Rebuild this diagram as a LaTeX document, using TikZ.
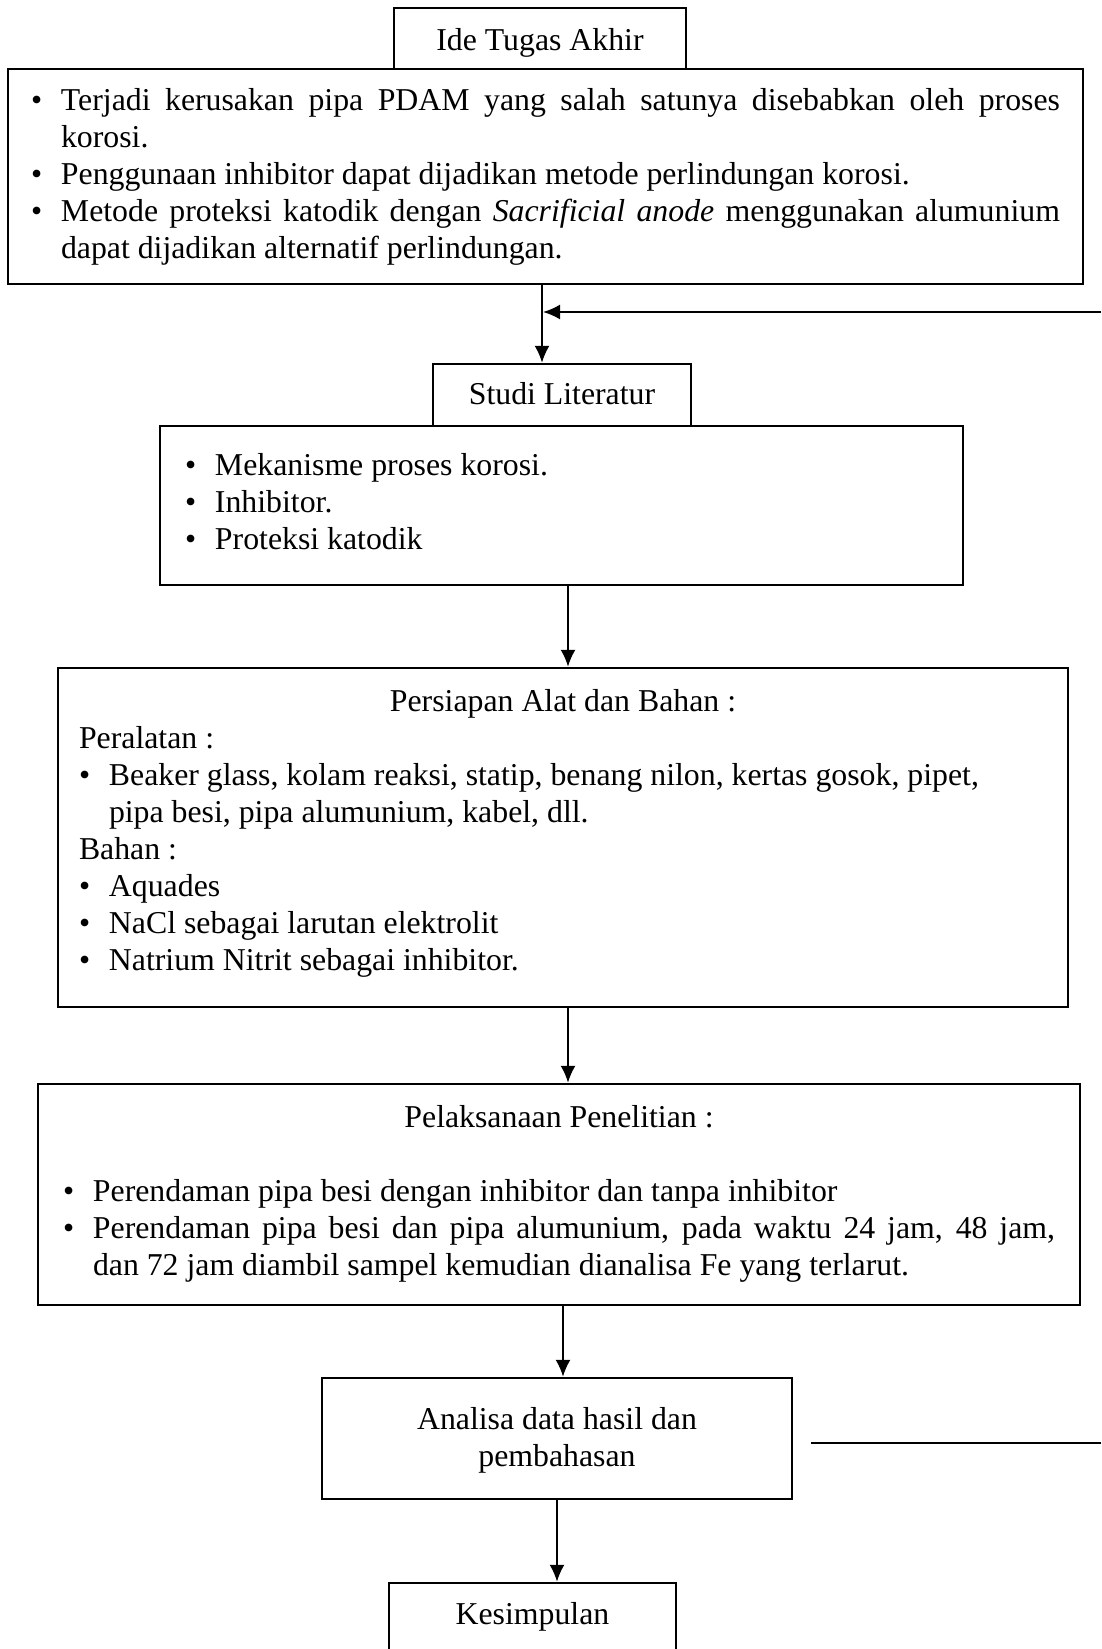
\documentclass[tikz,border=0pt]{standalone}
\usepackage{fontspec}
\setmainfont{Liberation Serif}
\usetikzlibrary{arrows.meta}

\hyphenpenalty=10000
\exhyphenpenalty=10000
\newcommand{\butir}[1]{\hangindent=30pt\hangafter=1\noindent\makebox[30pt][l]{\textbullet}#1\par}

\begin{document}
\begin{tikzpicture}[x=1pt,y=1pt,
  font=\fontsize{31.8}{37}\selectfont,
  kotak/.style={draw, line width=2.4pt, inner ysep=0pt,
    execute at begin node={\spaceskip=0pt\xspaceskip=0pt\hyphenpenalty=10000\relax}},
  panah/.style={-{Latex[length=17pt,width=15pt]}, line width=2pt},
  garis/.style={line width=2pt}]
\useasboundingbox (0,0) rectangle (1101,-1649);

\node[kotak, text width=1029pt, inner xsep=23pt, align=justify, text height=41pt, text depth=174pt] (ideisi) at (545.5,-176.5) {%
\butir{Terjadi kerusakan pipa PDAM yang salah satunya disebabkan oleh proses korosi.}
\butir{Penggunaan inhibitor dapat dijadikan metode perlindungan korosi.}
\butir{Metode proteksi katodik dengan \textit{Sacrificial anode} menggunakan alumunium dapat dijadikan alternatif perlindungan.}};
\node[kotak, text width=272pt, inner xsep=10pt, align=flush center, text height=42pt, text depth=19pt] (ide) at (540,-38.5) {Ide Tugas Akhir};

\node[kotak, text width=238pt, inner xsep=10pt, align=flush center, text height=40pt, text depth=22pt] (studi) at (562,-395) {Studi Literatur};
\node[kotak, text width=753pt, inner xsep=25pt, align=left, text height=49pt, text depth=110pt] (studiisi) at (561.5,-505.5) {%
\butir{Mekanisme proses korosi.}
\butir{Inhibitor.}
\butir{Proteksi katodik}};

\node[kotak, text width=968pt, inner xsep=21pt, align=left, text height=43pt, text depth=296pt] (persiapan) at (563,-837.5) {%
\noindent\makebox[\linewidth]{Persiapan Alat dan Bahan :}\par
\noindent Peralatan :\par
\butir{Beaker glass, kolam reaksi, statip, benang nilon, kertas gosok, pipet,\newline pipa besi, pipa alumunium, kabel, dll.}
\noindent Bahan :\par
\butir{Aquades}
\butir{NaCl sebagai larutan elektrolit}
\butir{Natrium Nitrit sebagai inhibitor.}};

\node[kotak, text width=992pt, inner xsep=25pt, align=justify, text height=43pt, text depth=178pt] (pelaksanaan) at (559,-1194.5) {%
\noindent\makebox[\linewidth]{Pelaksanaan Penelitian :}\par
\vspace{37pt}
\butir{Perendaman pipa besi dengan inhibitor dan tanpa inhibitor}
\butir{Perendaman pipa besi dan pipa alumunium, pada waktu 24 jam, 48 jam,\linebreak dan 72 jam diambil sampel kemudian dianalisa Fe yang terlarut.}};

\node[kotak, text width=450pt, inner xsep=10pt, align=flush center, text height=51pt, text depth=70pt] (analisa) at (557,-1438.5) {Analisa data hasil dan\\ pembahasan};
\node[kotak, text width=267pt, inner xsep=10pt, align=flush center, text height=41pt, text depth=76pt] (kesimpulan) at (532.5,-1641.5) {Kesimpulan};

\coordinate (sambung) at (542,-312);
\coordinate (atas) at (1101,-312);
\coordinate (bawah) at (1101,-1443);

\draw[panah] (ideisi.south -| sambung) -- (studi.north -| sambung);
\draw[panah, shorten >=1pt] (atas) -- (sambung);
\draw[panah] ([xshift=6.5pt]studiisi.south) -- ([xshift=5pt]persiapan.north);
\draw[panah] ([xshift=5pt]persiapan.south) -- ([xshift=9pt]pelaksanaan.north);
\draw[panah] ([xshift=4pt]pelaksanaan.south) -- ([xshift=6pt]analisa.north);
\draw[panah] (analisa.south) -- (kesimpulan.north -| analisa.south);
\draw[garis, shorten >=18pt] (bawah) -- (bawah -| analisa.east);
\end{tikzpicture}
\end{document}
